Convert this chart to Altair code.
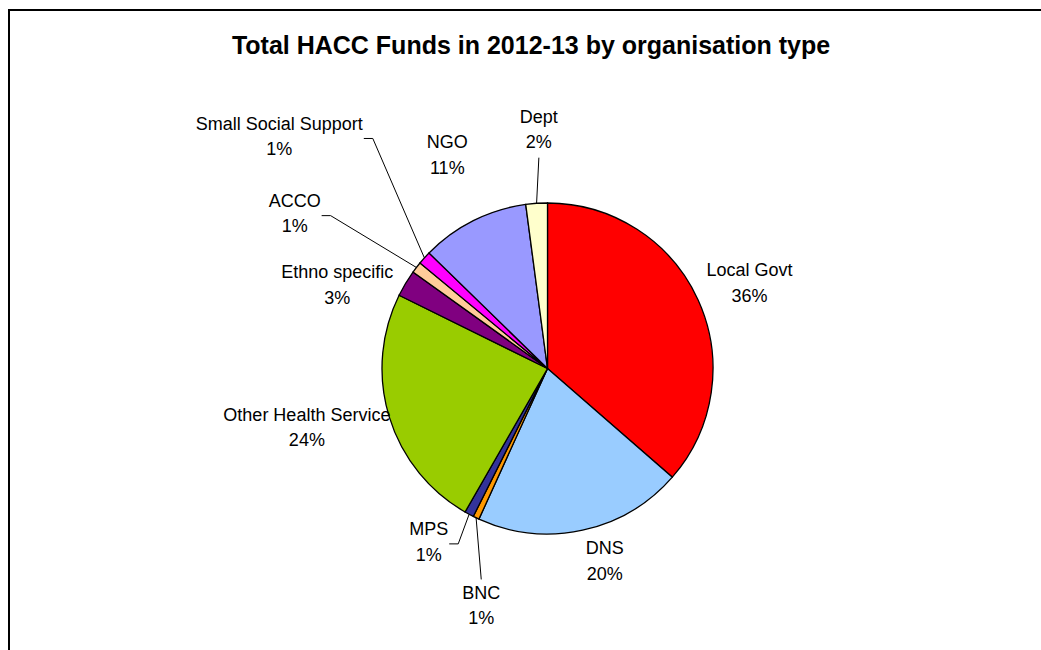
import math
import altair as alt
import pandas as pd

categories = ["Local Govt", "DNS", "BNC", "MPS", "Other Health Service",
              "Ethno specific", "ACCO", "Small Social Support", "NGO", "Dept"]
shares = [36.4, 20.4, 0.6, 0.9, 24.0, 2.6, 1.1, 1.3, 10.6, 2.1]
colors = ["#FF0000", "#99CCFF", "#FF9900", "#333399", "#99CC00",
          "#800080", "#FFCC99", "#FF00FF", "#9999FF", "#FFFFCC"]

# label layout: distance from pie centre, angular nudge (deg), leader style
label_radius = [219, 202, 247, 211, 248, 226, 296, 354, 235, 238]
label_nudge = [1.8, -4.2, -10.0, 6.0, 2.9, -9.5, -6.3, -1.2, 1.4, 1.7]
leader = ["", "", "top", "right", "", "", "right", "right", "", "bottom"]

CX, CY, R = 547.5, 368.5, 165.5
FONT = "Liberation Sans"
FS = 18
LH = 25.5

# approximate Arial advance widths (per em)
W = {"A": .667, "C": .722, "O": .778, "S": .667, "M": .833, "P": .667, "B": .667,
     "N": .722, "D": .722, "G": .778, "H": .722, "L": .556, "E": .667,
     "f": .278, "i": .222, "l": .222, "m": .833, "r": .333, "t": .278, "c": .5,
     "s": .5, "v": .5, "y": .5, " ": .278, "%": .889}


def text_w(s):
    return sum(W.get(ch, .556) for ch in s) * FS


def pt(r, a):
    return CX + r * math.sin(math.radians(a)), CY - r * math.cos(math.radians(a))


total = sum(shares)
rows, lines = [], []
cum = 0.0
for i, (c, v) in enumerate(zip(categories, shares)):
    mid = (cum + v / 2) / total * 360
    cum += v
    pct = f"{int(v + 0.5)}%"
    lx, ly = pt(label_radius[i], mid + label_nudge[i])
    # first text line sits half a line above the block centre
    rows.append(dict(idx=i, cat=c, share=v, label=c + "\n" + pct, lx=lx, ly=ly - LH / 2))
    ex, ey = pt(R, mid)
    kind = leader[i]
    if kind == "right":
        hw = max(text_w(c), text_w(pct)) / 2
        sx, sy = lx + hw + 1, ly + 1
        pts = [(sx, sy), (sx + 9, sy), (ex, ey)]
    elif kind == "top":
        pts = [(lx, ly - 27), (ex, ey)]
    elif kind == "bottom":
        pts = [(lx, ly + 27), (ex, ey)]
    else:
        pts = []
    for k, (px, py) in enumerate(pts):
        lines.append(dict(seg=c, o=k, px=px, py=py))

df = pd.DataFrame(rows)
ldf = pd.DataFrame(lines)

base = alt.Chart(df)

frame = alt.Chart(pd.DataFrame({"a": [0]})).mark_rect(
    fill=None, stroke="black", strokeWidth=2
).encode(x=alt.value(9), y=alt.value(10), x2=alt.value(1060), y2=alt.value(700))

arcs = base.mark_arc(outerRadius=R, stroke="black", strokeWidth=1.3).encode(
    theta=alt.Theta("share:Q", stack=True),
    color=alt.Color("cat:N", scale=alt.Scale(domain=categories, range=colors), legend=None),
    order=alt.Order("idx:Q"),
    x=alt.value(CX),
    y=alt.value(CY),
)

leaders = alt.Chart(ldf).mark_line(color="black", strokeWidth=1).encode(
    x=alt.X("px:Q", scale=None, axis=None),
    y=alt.Y("py:Q", scale=None, axis=None),
    detail="seg:N",
    order="o:Q",
)

labels = base.mark_text(font=FONT, fontSize=FS, lineBreak="\n", lineHeight=LH,
                        align="center", baseline="middle", color="black").encode(
    x=alt.X("lx:Q", scale=None, axis=None),
    y=alt.Y("ly:Q", scale=None, axis=None),
    text="label:N",
)

chart = alt.layer(frame, arcs, leaders, labels).properties(
    width=1041, height=650, autosize="none", padding=0,
    title=alt.TitleParams("Total HACC Funds in 2012-13 by organisation type",
                          font=FONT, fontSize=25, fontWeight="bold", color="black",
                          anchor="middle", baseline="middle", offset=0, dy=71, dx=10.5),
).configure_view(stroke=None)

chart.save("out.html", embed_options={"renderer": "svg", "actions": False})
